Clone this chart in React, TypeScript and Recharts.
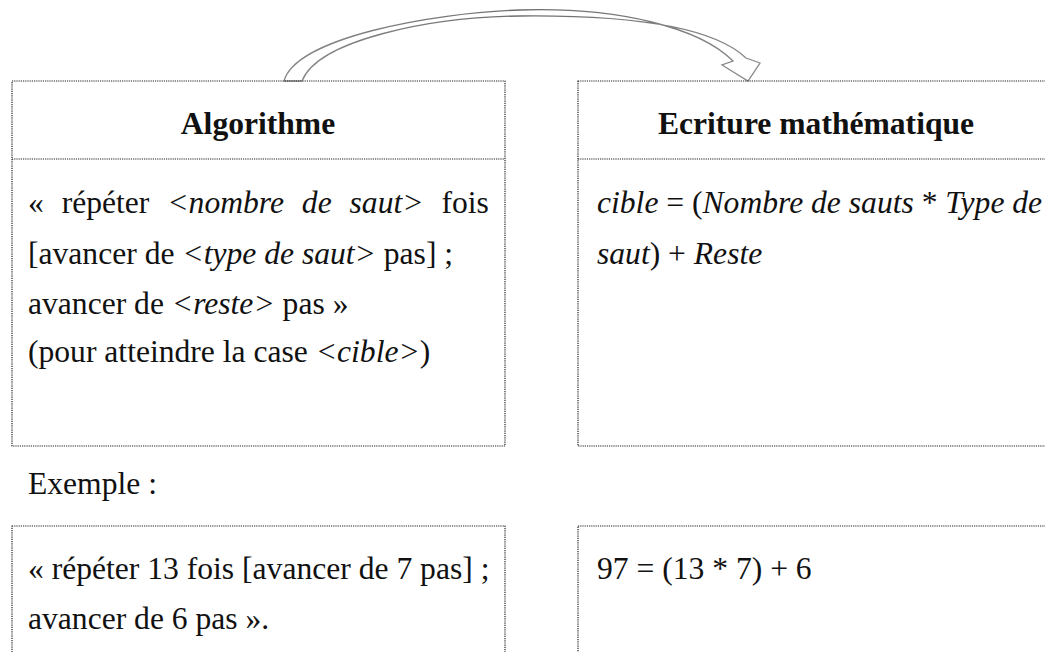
import React from "react";
import { ComposedChart, XAxis, YAxis, ReferenceArea, ReferenceLine, Customized } from "recharts";

type Seg = [string, boolean];

const headers = ["Algorithme", "Ecriture mathématique"];

const algoLines: Seg[][] = [
  [["« répéter ", false], ["<nombre de saut>", true], [" fois", false]],
  [["[avancer de ", false], ["<type de saut>", true], [" pas] ;", false]],
  [["avancer de ", false], ["<reste>", true], [" pas »", false]],
  [["(pour atteindre la case ", false], ["<cible>", true], [")", false]],
];

const mathLines: Seg[][] = [
  [["cible", true], [" = (", false], ["Nombre de sauts", true], [" * ", false], ["Type de", true]],
  [["saut", true], [") + ", false], ["Reste", true]],
];

const exampleLabel = "Exemple :";
const exampleAlgo = ["« répéter 13 fois [avancer de 7 pas] ;", "avancer de 6 pas »."];
const exampleMath = ["97 = (13 * 7) + 6"];

const W = 1045;
const H = 652;
const FONT = '"Liberation Serif"';
const FS = 31.6;
const INK = "#111";
const DOT = "#222";

const RichLine = ({ segs, x, y, wordSpacing }: { segs: Seg[]; x: number; y: number; wordSpacing?: number }) => (
  <text x={x} y={y} style={{ fontFamily: FONT, fontSize: FS, fill: INK, whiteSpace: "pre", wordSpacing }}>
    {segs.map(([t, it], i) => (
      <tspan key={i} style={{ fontStyle: it ? "italic" : "normal" }}>
        {t}
      </tspan>
    ))}
  </text>
);

const plain = { fontFamily: FONT, fontSize: FS, fill: INK, whiteSpace: "pre" as const };

const Texts = () => (
  <g>
    <text x={258} y={134} textAnchor="middle" style={{ ...plain, fontWeight: "bold" }}>
      {headers[0]}
    </text>
    <text x={816} y={134} textAnchor="middle" style={{ ...plain, fontWeight: "bold" }}>
      {headers[1]}
    </text>
    {algoLines.map((segs, i) => (
      <RichLine key={i} segs={segs} x={28} y={[213, 264, 314, 362][i]} wordSpacing={i === 0 ? 10 : 0} />
    ))}
    {mathLines.map((segs, i) => (
      <RichLine key={i} segs={segs} x={597} y={[213, 264][i]} />
    ))}
    <text x={28} y={494} style={plain}>
      {exampleLabel}
    </text>
    {exampleAlgo.map((t, i) => (
      <text key={i} x={28} y={579 + i * 50} style={plain}>
        {t}
      </text>
    ))}
    {exampleMath.map((t, i) => (
      <text key={i} x={597} y={579 + i * 50} style={plain}>
        {t}
      </text>
    ))}
  </g>
);

const CurvedArrow = () => (
  <g>
    <defs>
      <linearGradient id="arrowStroke" x1="0" y1="0" x2="1" y2="0">
        <stop offset="0" stopColor="#8a8a8a" />
        <stop offset="0.5" stopColor="#6e6e6e" />
        <stop offset="1" stopColor="#8a8a8a" />
      </linearGradient>
    </defs>
    <path
      d="M 284 81 C 296 38, 430 13, 520 10 C 620 7, 700 28, 733 61 L 722 65 L 748 81 L 760 63 L 746 58 C 710 24, 620 15, 520 16 C 430 17, 318 40, 302 81 Z"
      fill="#fff"
      stroke="url(#arrowStroke)"
      strokeWidth={1.3}
      strokeLinejoin="miter"
    />
  </g>
);

const dotted = { fill: "none", stroke: DOT, strokeWidth: 1.2, strokeDasharray: "1.2 1" };

export default function App() {
  return (
    <div style={{ position: "absolute", left: 0, top: 0, background: "#fff" }}>
      <ComposedChart width={W} height={H} data={[]} margin={{ top: 0, right: 0, bottom: 0, left: 0 }}>
        <XAxis type="number" dataKey="x" domain={[0, W]} hide allowDataOverflow />
        <YAxis type="number" dataKey="y" domain={[0, H]} reversed hide allowDataOverflow />
        <ReferenceArea x1={12} x2={505} y1={81} y2={446} ifOverflow="visible" {...dotted} fillOpacity={0} />
        <ReferenceLine segment={[{ x: 12, y: 159 }, { x: 505, y: 159 }]} ifOverflow="visible" {...dotted} />
        <ReferenceArea x1={578} x2={1054} y1={81} y2={446} ifOverflow="visible" {...dotted} fillOpacity={0} />
        <ReferenceLine segment={[{ x: 578, y: 159 }, { x: 1054, y: 159 }]} ifOverflow="visible" {...dotted} />
        <ReferenceArea x1={12} x2={505} y1={526} y2={700} ifOverflow="visible" {...dotted} fillOpacity={0} />
        <ReferenceArea x1={578} x2={1054} y1={526} y2={700} ifOverflow="visible" {...dotted} fillOpacity={0} />
        <Customized component={CurvedArrow} />
        <Customized component={Texts} />
      </ComposedChart>
    </div>
  );
}
